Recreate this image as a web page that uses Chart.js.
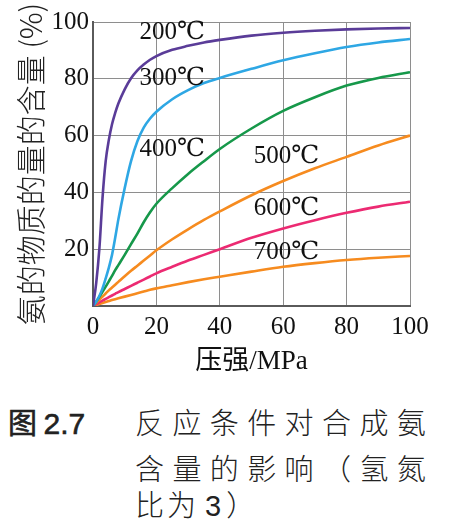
<!DOCTYPE html>
<html>
<head>
<meta charset="utf-8">
<script src="https://cdn.jsdelivr.net/npm/chart.js@4.4.1/dist/chart.umd.min.js"></script>
<style>
  html, body { margin: 0; padding: 0; background: #fff; }
  body { width: 450px; height: 526px; position: relative; overflow: hidden; }
  #c { position: absolute; left: 0; top: 0; }
  .cap { position: absolute; font-family: "Noto Sans CJK SC", sans-serif; color: #222; white-space: pre; line-height: 1; }
</style>
</head>
<body>
<canvas id="c" width="450" height="390"></canvas>
<div class="cap" style="left:8px; top:407px; font-size:29px; font-weight:400; -webkit-text-stroke:0.6px #222;">图 <span style="font-family:'Liberation Sans', Arial, sans-serif; font-size:30px;">2.7</span></div>
<div class="cap" style="left:135px; top:407px; font-size:29px; letter-spacing:8.4px; font-weight:300;">反应条件对合成氨</div>
<div class="cap" style="left:135px; top:453px; font-size:29px; letter-spacing:8.4px; font-weight:300;">含量的影响（氢氮</div>
<div class="cap" style="left:135px; top:489px; font-size:29px; letter-spacing:3px; font-weight:300;">比为<span style="font-family:'Liberation Sans', Arial, sans-serif; font-size:29px; margin-left:6px; margin-right:2px;">3</span>）</div>
<script>
// ---- data ----
const pressure = [0, 1, 2, 3, 4, 5, 6, 7, 8, 10, 12, 14, 16, 18, 20, 25, 30, 35, 40, 50, 60, 70, 80, 90, 100];
const seriesNames = ["200℃", "300℃", "400℃", "500℃", "600℃", "700℃"];
const t200 = [0, 8, 20, 38, 51, 58.5, 64, 68, 71.3, 76.3, 80.2, 83, 85, 86.7, 88, 90.2, 91.6, 92.8, 93.7, 95.2, 96.2, 96.9, 97.4, 97.7, 97.9];
const t300 = [0, 1.5, 3.5, 6.2, 9.7, 13.5, 18, 24, 30.5, 41.5, 51, 58, 62.8, 66, 68.4, 72.8, 76, 78.5, 80.3, 83.5, 86.5, 89, 91.2, 92.8, 94];
const t400 = [0, 1.5, 3.2, 5, 6.8, 8.7, 10.6, 12.6, 14.4, 18, 21.8, 25.5, 29.5, 33, 36, 41.5, 46.5, 51, 55.3, 62.5, 68.7, 73.5, 77.6, 80.3, 82.3];
const t500 = [0, 1.1, 2.2, 3.3, 4.4, 5.5, 6.5, 7.5, 8.5, 10.5, 12.4, 14.2, 16, 17.8, 19.6, 23.5, 27, 30.3, 33.3, 39, 44, 48.5, 52.5, 56.5, 60];
const t600 = [0, 0.65, 1.3, 1.9, 2.5, 3.1, 3.7, 4.3, 4.9, 6, 7.1, 8.2, 9.3, 10.4, 11.5, 13.8, 16, 18, 20, 24, 27.3, 30.2, 32.8, 35, 36.7];
const t700 = [0, 0.35, 0.7, 1.05, 1.4, 1.75, 2.1, 2.4, 2.7, 3.3, 3.9, 4.5, 5.1, 5.7, 6.2, 7.3, 8.4, 9.4, 10.3, 12.1, 13.8, 15.1, 16.2, 17, 17.6];
const xTicks = [0, 20, 40, 60, 80, 100];
const yTicks = [0, 20, 40, 60, 80, 100];
const yTickLabels = ["", "20", "40", "60", "80", "100"];
// label anchor points (data units) for the temperature labels
const labelX = [25, 25, 25, 61, 61, 61];
const labelY = [96.5, 80.3, 55, 52.5, 34.2, 18.7];

const colors = ["#5a3c98", "#2ea7e4", "#16984a", "#f68b1f", "#ec2a72", "#f68b1f"];
const allSeries = [t200, t300, t400, t500, t600, t700];

const datasets = allSeries.map((s, i) => ({
  label: seriesNames[i],
  data: pressure.map((p, j) => ({ x: p, y: s[j] })),
  borderColor: colors[i],
  borderWidth: 2.6,
  pointRadius: 0,
  fill: false,
  cubicInterpolationMode: 'monotone'
}));

const serif = "'Liberation Serif', 'DejaVu Serif', serif";

const labelPlugin = {
  id: 'tempLabels',
  afterDatasetsDraw(chart) {
    const { ctx, scales: { x, y } } = chart;
    ctx.save();
    ctx.fillStyle = '#111';
    ctx.textAlign = 'center';
    ctx.textBaseline = 'middle';
    ctx.font = "25px " + serif;
    seriesNames.forEach((t, i) => {
      ctx.fillText(t, x.getPixelForValue(labelX[i]), y.getPixelForValue(labelY[i]));
    });
    ctx.restore();
  }
};

new Chart(document.getElementById('c'), {
  type: 'line',
  data: { datasets },
  plugins: [labelPlugin],
  options: {
    responsive: false,
    devicePixelRatio: 1,
    animation: false,
    layout: { padding: { top: 22, right: 40, left: 0, bottom: 0 } },
    plugins: { legend: { display: false }, tooltip: { enabled: false } },
    scales: {
      x: {
        type: 'linear', min: 0, max: 100,
        afterBuildTicks(s) { s.ticks = xTicks.map(v => ({ value: v })); },
        afterFit(s) { s.height = 84; },
        ticks: { color: '#111', font: { family: serif, size: 25 }, padding: 6, maxRotation: 0 },
        grid: { color: '#8e8e8e', lineWidth: 1, drawTicks: false },
        border: { color: '#5a5a5a', width: 2 },
        title: { display: true, text: '压强/MPa', color: '#111', font: { family: "'Liberation Serif', 'Noto Sans CJK SC', serif", size: 27 }, padding: { top: 0, bottom: 12 } }
      },
      y: {
        min: 0, max: 100,
        afterBuildTicks(s) { s.ticks = yTicks.map(v => ({ value: v })); },
        afterFit(s) { s.width = 93; },
        ticks: { color: '#111', font: { family: serif, size: 25 }, padding: 4,
                 callback: (v, i) => yTickLabels[yTicks.indexOf(v)] },
        grid: { color: '#8e8e8e', lineWidth: 1, drawTicks: false },
        border: { color: '#5a5a5a', width: 2 },
        title: { display: true, text: '氨的物质的量的含量 (%)', color: '#222', font: { family: "'Noto Sans CJK SC', serif", size: 30, weight: 300 }, padding: { top: 13, bottom: 0 } }
      }
    }
  }
});
</script>
</body>
</html>
